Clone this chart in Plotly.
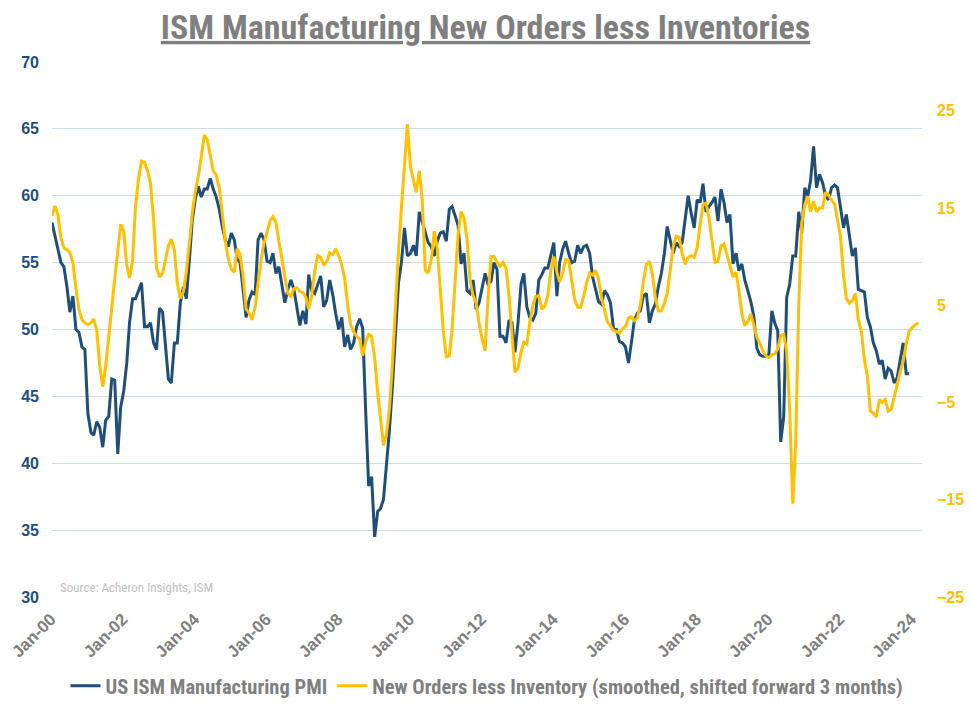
import pandas as pd
import plotly.graph_objects as go

# US ISM Manufacturing PMI (monthly, first point plotted at Jan-00)
pmi = [
    58.0, 57.0, 56.0, 55.0, 54.7, 53.2, 51.3, 52.5, 50.0, 49.8, 48.7, 48.5, 43.7, 42.3, 42.1, 43.1, 42.7, 41.2,
    43.2, 43.5, 46.3, 46.2, 40.7, 44.2, 45.4, 47.5, 50.5, 52.3, 52.3, 53.0, 53.5, 50.2, 50.2, 50.5, 49.0, 48.5,
    51.6, 51.3, 49.0, 46.3, 46.0, 49.0, 49.0, 52.0, 53.2, 52.3, 55.2, 58.2, 59.8, 60.7, 59.9, 60.5, 60.5, 61.3,
    60.5, 59.9, 59.0, 57.7, 56.7, 56.2, 57.2, 56.7, 55.3, 55.0, 53.0, 50.9, 52.2, 52.8, 52.6, 56.7, 57.2, 56.7,
    55.1, 55.0, 55.7, 54.2, 54.7, 53.2, 52.0, 53.0, 53.7, 53.0, 51.7, 50.3, 51.4, 50.4, 54.1, 52.9, 52.7, 53.4,
    54.0, 51.7, 52.2, 53.7, 52.6, 51.2, 50.0, 50.9, 48.7, 49.6, 48.5, 49.0, 50.2, 50.8, 50.1,
    44.0, 38.3, 39.0, 34.5, 36.4, 36.6, 37.3, 39.8, 42.5, 45.7, 49.5, 53.5, 55.0, 57.6, 55.5, 55.7, 56.3, 55.5,
    58.8, 58.0, 57.2, 56.5, 56.2, 55.5, 56.6, 57.2, 57.3, 56.6, 59.0, 59.2, 58.5, 57.8, 54.9, 55.7, 52.9, 52.7,
    53.7, 51.5, 52.0, 53.2, 54.2, 53.4, 53.6, 55.0, 54.5, 49.5, 49.5, 49.0, 50.7, 50.5, 48.3, 50.5,
    53.4, 54.2, 51.7, 50.9, 50.7, 51.2, 53.7, 54.1, 54.6, 54.6, 55.5, 56.5, 52.5, 55.0, 56.0, 56.6, 55.7, 55.0,
    55.1, 56.3, 55.7, 56.2, 56.3, 55.7, 53.9, 53.0, 52.1, 51.9, 52.9, 52.6, 52.0, 50.1, 50.0, 49.1, 49.0, 48.7,
    47.5, 49.0, 50.7, 51.2, 51.4, 52.5, 52.7, 50.5, 51.4, 51.9, 53.2, 54.2, 55.7, 57.7, 56.6, 55.7,
    56.5, 56.2, 56.5, 58.5, 60.0, 58.7, 57.6, 59.7, 59.5, 60.9, 58.8, 59.2, 59.5, 59.9, 58.1, 60.5, 59.5, 58.0,
    58.6, 54.9, 55.7, 54.4, 54.9, 53.7, 52.9, 52.1, 51.0, 48.6, 48.1, 48.0, 48.0, 48.1, 51.4, 50.5, 49.9, 41.6,
    43.5, 52.4, 53.4, 55.5, 55.5, 58.8, 57.2, 60.6, 60.0, 61.1, 63.7, 60.6, 61.6, 61.0, 60.0, 59.7, 60.6, 60.8,
    60.6, 59.2, 57.6, 58.6, 57.1, 55.5, 56.1, 53.0, 52.9, 52.8,
    50.9, 50.2, 49.0, 48.4, 47.4, 47.7, 46.3, 47.1, 46.9, 46.0, 46.4, 47.6, 49.0, 46.7, 46.7,
]

# New Orders less Inventories (smoothed, shifted forward 3 months)
no_less_inv = [
    14.2, 15.2, 14.3, 11.9, 10.9, 10.7, 10.4, 9.4, 6.7, 4.6, 3.5, 3.2, 3.0, 3.2, 3.6, 2.4, -1.2, -3.4,
    -1.3, 2.0, 4.6, 7.7, 10.5, 13.3, 12.6, 9.1, 7.8, 9.6, 15.2, 18.0, 19.8, 19.7, 18.8, 17.5, 13.8, 8.9,
    7.9, 8.3, 9.6, 11.1, 11.8, 10.7, 7.2, 5.7, 6.4, 8.4, 11.4, 14.5, 16.7, 18.3, 20.2, 22.5, 22.0,
    20.2, 18.8, 18.4, 17.0, 14.5, 11.6, 9.8, 8.7, 8.4, 10.8, 10.2, 8.0, 4.6, 4.2, 3.5, 4.8, 7.3, 9.7,
    11.4, 12.6, 13.7, 14.1, 13.5, 11.6, 9.6, 7.9, 6.2, 5.9, 6.7, 6.8, 6.4, 6.3, 5.8, 4.6, 6.0, 8.5,
    10.1, 9.9, 9.1, 9.5, 10.4, 10.2, 10.8, 10.1, 9.1, 7.8, 5.0, 3.0, 2.3,
    1.8, 1.5, -0.2, 1.2, 2.0, 1.8, -0.4, -4.0, -6.5, -9.4, -8.3, -5.6, -1.0, 5.0, 10.5, 15.0, 19.7, 23.6,
    19.2, 17.7, 16.6, 18.8, 15.8, 8.6, 8.3, 9.7, 12.6, 10.9, 6.5, 2.4, -0.3, -0.2, 2.5, 7.1, 12.2, 14.6,
    14.0, 11.7, 7.5, 6.0, 5.2, 3.2, 1.5, 0.3, 5.7, 10.0, 10.0, 9.4, 9.0, 9.4, 8.8, 6.0, 1.5, -1.9, -1.5,
    0.2, 1.2, 1.0, 3.2, 5.0, 5.9, 6.0, 4.6, 4.9, 6.0, 8.5, 10.0, 8.4, 7.4, 8.3, 9.7, 9.6, 7.6,
    5.6, 4.8, 4.8, 5.9, 7.3, 8.3, 8.1, 8.6, 7.7, 5.8, 4.4, 3.3, 2.9, 2.4, 2.3, 2.1, 2.6, 2.8,
    3.7, 3.8, 3.4, 3.7, 5.0, 7.4, 9.2, 9.5, 8.2, 5.8, 4.4, 4.4, 5.2,
    6.2, 8.6, 11.0, 12.1, 12.0, 10.3, 9.2, 9.9, 10.1, 9.9, 10.9, 13.4, 15.3, 15.5, 14.0, 11.6, 9.4, 9.5,
    11.1, 11.3, 10.1, 8.8, 7.9, 8.4, 6.6, 4.1, 2.9, 3.3, 4.1, 3.0, 1.7, 1.1, 0.3, -0.2, -0.4, -0.1,
    0.0, 0.5, 1.9, 2.0, 0.2, -5.8, -15.4,
    -9.0, 5.0, 13.4, 15.3, 16.2, 14.6, 15.7, 14.6, 15.0, 15.0, 16.6, 16.3, 15.8, 15.4, 13.8, 12.0, 8.0, 5.7,
    5.2, 5.5, 6.2, 3.5, 2.3, -0.6, -2.3, -5.9, -6.1, -6.5, -4.7, -5.0, -4.7, -5.9, -5.7, -4.6, -3.2, -1.8,
    -0.8, 1.0, 2.3, 2.7, 3.0, 3.2,
]

start_month = "2000-01-01"
pmi_dates = pd.date_range(start_month, periods=len(pmi), freq="MS")
noi_dates = pd.date_range(start_month, periods=len(no_less_inv), freq="MS")

title_text = "ISM Manufacturing New Orders less Inventories"
pmi_name = "US ISM Manufacturing PMI"
noi_name = "New Orders less Inventory (smoothed, shifted forward 3 months)"
source_text = "Source: Acheron Insights, ISM"

BLUE = "#1F4E79"
GOLD = "#FFC000"
GRAY = "#7F7F7F"
GRID = "#C9DCF0"
NARROW = "Liberation Sans Narrow, Arial Narrow, Roboto Condensed, sans-serif"
ARIAL = "Liberation Sans, Arial, sans-serif"

fig = go.Figure()
fig.add_trace(go.Scatter(x=pmi_dates, y=pmi, name=pmi_name, mode="lines",
                         line=dict(color=BLUE, width=3), yaxis="y"))
fig.add_trace(go.Scatter(x=noi_dates, y=no_less_inv, name=noi_name, mode="lines",
                         line=dict(color=GOLD, width=3), yaxis="y2"))

fig.update_layout(
    width=971, height=709,
    margin=dict(l=52, r=49, t=62, b=112, autoexpand=False),
    paper_bgcolor="white", plot_bgcolor="white",
    title=dict(text="<b><u>" + title_text + "</u></b>", x=0.5, xanchor="center",
               y=1 - 27 / 709, yanchor="middle",
               font=dict(family=NARROW, size=34, color=GRAY)),
    xaxis=dict(type="date", range=["2000-01-01", "2024-04-10"], automargin=False,
               tick0="2000-01-01", dtick="M24", tickformat="%b-%y",
               tickangle=-45, showgrid=False, zeroline=False, showline=False,
               ticks="", ticklabelstandoff=8, ticklabelshift=-1,
               tickfont=dict(family=ARIAL, size=17, color=GRAY, weight="bold")),
    yaxis=dict(range=[30, 70], dtick=5, tick0=30, showgrid=True, gridcolor=GRID, gridwidth=1,
               zeroline=False, showline=False, ticks="", ticklabelstandoff=12, automargin=False,
               tickfont=dict(family=ARIAL, size=16, color=BLUE, weight="bold")),
    yaxis2=dict(range=[-25, 30], dtick=10, tick0=-25, overlaying="y", side="right",
                showgrid=False, zeroline=False, showline=False, ticks="", ticklabelstandoff=14,
                automargin=False,
                tickfont=dict(family=ARIAL, size=16, color=GOLD, weight="bold")),
    legend=dict(orientation="h", x=0.5, xanchor="center", y=-0.166, yanchor="middle",
                font=dict(family=NARROW, size=20.5, color=GRAY, weight="bold"),
                itemwidth=30, tracegroupgap=0),
    showlegend=True,
    annotations=[dict(text=source_text, xref="paper", yref="paper", x=0.007, y=0.017,
                      xanchor="left", yanchor="middle", showarrow=False,
                      font=dict(family=NARROW, size=13, color="#BFBFBF"))],
)

fig.write_html("out.html")
